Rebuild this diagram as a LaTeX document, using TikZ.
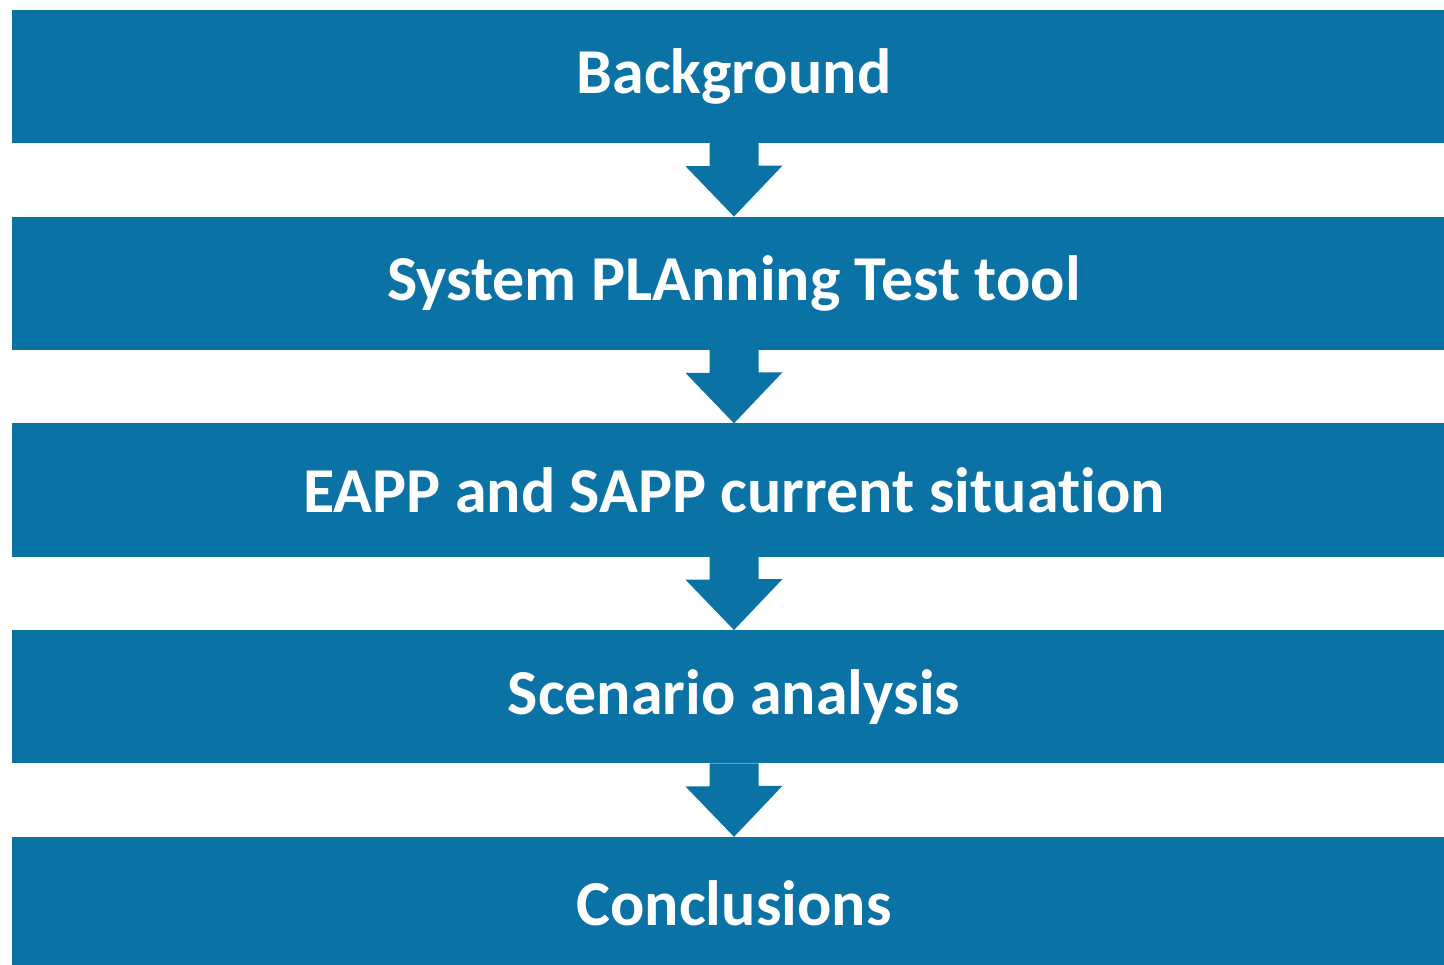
\documentclass[tikz,border=0pt]{standalone}
\usepackage{fontspec}
\setmainfont[RawFeature={-liga}]{Carlito}
\definecolor{boxblue}{RGB}{11,114,166}
\begin{document}
\begin{tikzpicture}[x=1pt,y=-1pt,
  stagebox/.style={fill=boxblue,draw=none,minimum width=1444pt,minimum height=133pt,inner sep=0pt,
    text=white,font=\fontsize{64}{72}\selectfont\bfseries},
  flowarrow/.style={fill=boxblue,draw=none}]
\clip (0,0) rectangle (1444,965);
\fill[white] (0,0) rectangle (1444,965);
\node[stagebox] (b1) at (734,76.5) {Background};
\node[stagebox] (b2) at (734,283.25) {System PLAnning Test tool};
\node[stagebox] (b3) at (734,490) {EAPP and SAPP current situation};
\node[stagebox] (b4) at (734,696.75) {Scenario analysis};
\node[stagebox] (b5) at (734,903.5) {Conclusions};
\foreach \a/\b in {b1/b2,b2/b3,b3/b4,b4/b5}{
  \fill[flowarrow] ([xshift=-24.5pt]\a.south) -- ++(0,23) -- ++(-24,0) -- (\b.north) -- ([xshift=48.5pt,yshift=51pt]\b.north) -- ++(-24,0) -- ([xshift=24.5pt]\a.south) -- cycle;
}
\end{tikzpicture}
\end{document}
